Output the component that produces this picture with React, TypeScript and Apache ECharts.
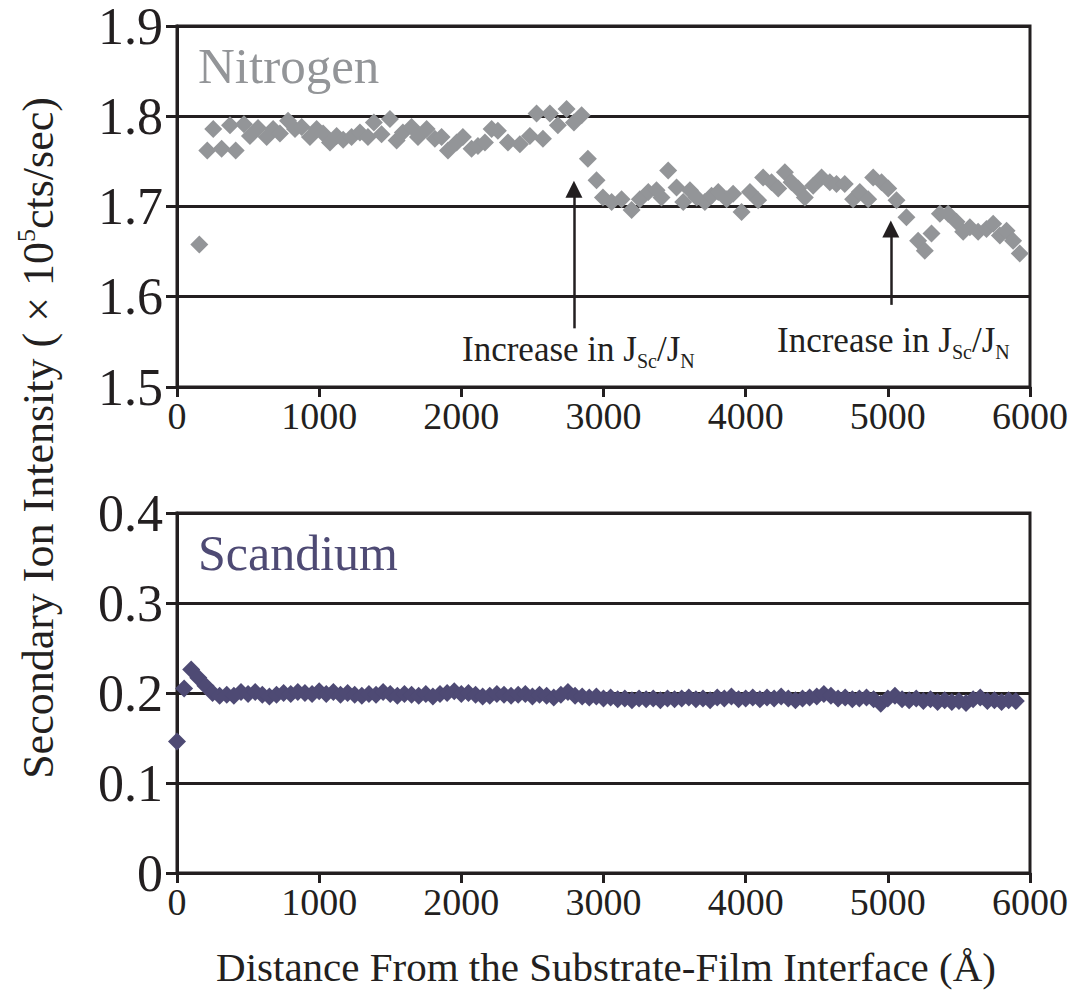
import React, { useEffect, useRef } from 'react';
import * as echarts from 'echarts';

const xTickValues = [0, 1000, 2000, 3000, 4000, 5000, 6000];

const nitrogenX = [157, 213, 255, 314, 373, 413, 471, 513, 570, 631, 676, 724, 781, 830, 877, 935, 982, 1028, 1076, 1123, 1169, 1228, 1287, 1343, 1385, 1439, 1498, 1545, 1589, 1650, 1695, 1756, 1814, 1861, 1906, 1967, 2011, 2072, 2117, 2166, 2213, 2257, 2328, 2412, 2482, 2529, 2574, 2623, 2679, 2740, 2792, 2846, 2890, 2951, 2996, 3057, 3127, 3198, 3256, 3315, 3373, 3408, 3455, 3514, 3561, 3608, 3655, 3713, 3760, 3807, 3866, 3912, 3971, 4030, 4088, 4123, 4182, 4229, 4276, 4323, 4369, 4416, 4475, 4534, 4592, 4639, 4697, 4756, 4803, 4862, 4897, 4956, 5003, 5061, 5131, 5213, 5260, 5307, 5366, 5424, 5483, 5530, 5577, 5635, 5694, 5741, 5788, 5835, 5881, 5928];
const nitrogenY = [1.658, 1.762, 1.786, 1.764, 1.790, 1.762, 1.791, 1.778, 1.787, 1.777, 1.786, 1.781, 1.795, 1.786, 1.788, 1.777, 1.786, 1.781, 1.771, 1.778, 1.774, 1.777, 1.782, 1.777, 1.793, 1.780, 1.797, 1.773, 1.782, 1.788, 1.777, 1.786, 1.775, 1.777, 1.762, 1.771, 1.777, 1.764, 1.767, 1.771, 1.786, 1.784, 1.771, 1.769, 1.778, 1.803, 1.775, 1.803, 1.790, 1.808, 1.793, 1.801, 1.753, 1.729, 1.710, 1.705, 1.708, 1.696, 1.708, 1.716, 1.718, 1.710, 1.740, 1.721, 1.705, 1.718, 1.710, 1.705, 1.712, 1.716, 1.708, 1.714, 1.694, 1.716, 1.707, 1.732, 1.727, 1.720, 1.738, 1.727, 1.720, 1.710, 1.723, 1.732, 1.727, 1.725, 1.725, 1.708, 1.716, 1.708, 1.732, 1.727, 1.720, 1.707, 1.688, 1.662, 1.651, 1.670, 1.692, 1.692, 1.683, 1.672, 1.677, 1.672, 1.675, 1.681, 1.668, 1.673, 1.662, 1.648];

const scandiumX = [0, 50, 100, 150, 200, 250, 300, 350, 400, 450, 500, 550, 600, 650, 700, 750, 800, 850, 900, 950, 1000, 1050, 1100, 1150, 1200, 1250, 1300, 1350, 1400, 1450, 1500, 1550, 1600, 1650, 1700, 1750, 1800, 1850, 1900, 1950, 2000, 2050, 2100, 2150, 2200, 2250, 2300, 2350, 2400, 2450, 2500, 2550, 2600, 2650, 2700, 2750, 2800, 2850, 2900, 2950, 3000, 3050, 3100, 3150, 3200, 3250, 3300, 3350, 3400, 3450, 3500, 3550, 3600, 3650, 3700, 3750, 3800, 3850, 3900, 3950, 4000, 4050, 4100, 4150, 4200, 4250, 4300, 4350, 4400, 4450, 4500, 4550, 4600, 4650, 4700, 4750, 4800, 4850, 4900, 4950, 5000, 5050, 5100, 5150, 5200, 5250, 5300, 5350, 5400, 5450, 5500, 5550, 5600, 5650, 5700, 5750, 5800, 5850, 5900];
const scandiumY = [0.146, 0.205, 0.226, 0.217, 0.208, 0.200, 0.197, 0.198, 0.197, 0.201, 0.199, 0.201, 0.198, 0.196, 0.198, 0.200, 0.199, 0.201, 0.200, 0.199, 0.202, 0.199, 0.201, 0.198, 0.200, 0.198, 0.197, 0.199, 0.198, 0.201, 0.199, 0.197, 0.199, 0.198, 0.197, 0.199, 0.196, 0.199, 0.200, 0.202, 0.199, 0.200, 0.198, 0.196, 0.197, 0.199, 0.198, 0.197, 0.198, 0.199, 0.196, 0.198, 0.197, 0.195, 0.198, 0.201, 0.197, 0.196, 0.195, 0.196, 0.194, 0.195, 0.193, 0.194, 0.192, 0.194, 0.193, 0.194, 0.192, 0.194, 0.193, 0.194, 0.195, 0.193, 0.194, 0.192, 0.195, 0.194, 0.196, 0.193, 0.194, 0.195, 0.193, 0.195, 0.194, 0.196, 0.194, 0.192, 0.194, 0.195, 0.196, 0.199, 0.197, 0.194, 0.195, 0.193, 0.194, 0.195, 0.193, 0.188, 0.194, 0.197, 0.193, 0.192, 0.194, 0.191, 0.193, 0.190, 0.192, 0.190, 0.191, 0.189, 0.193, 0.195, 0.191, 0.192, 0.190, 0.192, 0.191];

// annotation arrows in data space: [x, yStart, yEnd]
const arrowLines = [
  [2792, 1.565, 1.719],
  [5021, 1.591, 1.675],
];

const FONT = "'Liberation Serif', 'Times New Roman', serif";
const INK = '#231f20';
const N_COLOR = '#939598';
const SC_COLOR = '#4e4a74';

export default function App() {
  const ref = useRef<HTMLDivElement>(null);
  useEffect(() => {
    if (!ref.current) return;
    const chart = echarts.init(ref.current, undefined, { renderer: 'svg' });
    const nData = nitrogenX.map((x, i) => [x, nitrogenY[i]]);
    const sData = scandiumX.map((x, i) => [x, scandiumY[i]]);
    const xAxisCommon = (gridIndex: number) => ({
      type: 'value',
      gridIndex,
      min: xTickValues[0],
      max: xTickValues[xTickValues.length - 1],
      interval: 1000,
      axisLine: { show: true, lineStyle: { color: INK, width: 3 } },
      axisTick: { show: true, length: 10, lineStyle: { color: INK, width: 3 } },
      axisLabel: {
        color: INK,
        fontFamily: FONT,
        fontSize: 38,
        margin: 10,
        formatter: (v: number) => String(v),
      },
      splitLine: { show: false },
    });
    const yAxisCommon = (gridIndex: number, min: number, max: number) => ({
      type: 'value',
      gridIndex,
      min,
      max,
      interval: 0.1,
      axisLine: { show: true, lineStyle: { color: INK, width: 3 } },
      axisTick: { show: true, length: 11, lineStyle: { color: INK, width: 3 } },
      axisLabel: {
        color: INK,
        fontFamily: FONT,
        fontSize: 52,
        lineHeight: 44,
        margin: 14,
        formatter: (v: number) => (Math.abs(v) < 1e-9 ? '0' : v.toFixed(1)),
      },
      splitLine: { show: true, lineStyle: { color: INK, width: 3 } },
    });
    chart.setOption({
      animation: false,
      grid: [
        { left: 177, right: 47, top: 25, height: 362, show: true, borderColor: INK, borderWidth: 3 },
        { left: 177, right: 47, top: 513, height: 360, show: true, borderColor: INK, borderWidth: 3 },
      ],
      xAxis: [xAxisCommon(0), xAxisCommon(1)],
      yAxis: [yAxisCommon(0, 1.5, 1.9), yAxisCommon(1, 0, 0.4)],
      series: [
        {
          name: 'Nitrogen',
          type: 'scatter',
          xAxisIndex: 0,
          yAxisIndex: 0,
          symbol: 'diamond',
          symbolSize: 18,
          itemStyle: { color: N_COLOR, opacity: 1 },
          data: nData,
          markLine: {
            silent: true,
            symbol: ['none', 'triangle'],
            symbolSize: [17, 17],
            label: { show: false },
            lineStyle: { color: INK, width: 2.5, type: 'solid' },
            data: arrowLines.map((a) => [
              { coord: [a[0], a[1]] },
              { coord: [a[0], a[2]] },
            ]),
          },
        },
        {
          name: 'Scandium',
          type: 'scatter',
          xAxisIndex: 1,
          yAxisIndex: 1,
          symbol: 'diamond',
          symbolSize: 18,
          itemStyle: { color: SC_COLOR, opacity: 1 },
          data: sData,
        },
      ],
      graphic: [
        {
          type: 'text',
          left: 198,
          top: 40,
          style: { text: 'Nitrogen', fill: N_COLOR, font: `51px ${FONT}` },
        },
        {
          type: 'text',
          left: 198,
          top: 528,
          style: { text: 'Scandium', fill: SC_COLOR, font: `50px ${FONT}` },
        },
        {
          type: 'text',
          x: 462,
          y: 349,
          style: {
            text: 'Increase in J{sub|Sc}/J{sub|N}',
            fill: INK,
            font: `35px ${FONT}`,
            verticalAlign: 'middle',
            rich: {
              sub: { fontSize: 20, fontFamily: FONT, fill: INK, verticalAlign: 'bottom', lineHeight: 44 },
            },
          },
        },
        {
          type: 'text',
          x: 777,
          y: 340,
          style: {
            text: 'Increase in J{sub|Sc}/J{sub|N}',
            fill: INK,
            font: `35px ${FONT}`,
            verticalAlign: 'middle',
            rich: {
              sub: { fontSize: 20, fontFamily: FONT, fill: INK, verticalAlign: 'bottom', lineHeight: 44 },
            },
          },
        },
        {
          type: 'text',
          x: 38,
          y: 438,
          rotation: Math.PI / 2,
          style: {
            text: 'Secondary Ion Intensity ( × 10{sup|5}cts/sec)',
            fill: INK,
            font: `44px ${FONT}`,
            align: 'center',
            verticalAlign: 'middle',
            rich: {
              sup: { fontSize: 26, fontFamily: FONT, fill: INK, verticalAlign: 'top', lineHeight: 50 },
            },
          },
        },
        {
          type: 'text',
          x: 606,
          y: 967,
          style: {
            text: 'Distance From the Substrate-Film Interface (Å)',
            fill: INK,
            font: `41px ${FONT}`,
            align: 'center',
            verticalAlign: 'middle',
          },
        },
      ],
    });
    return () => chart.dispose();
  }, []);
  return (
    <div
      ref={ref}
      style={{ position: 'absolute', left: 0, top: 0, width: 1077, height: 993, background: '#fff' }}
    />
  );
}
